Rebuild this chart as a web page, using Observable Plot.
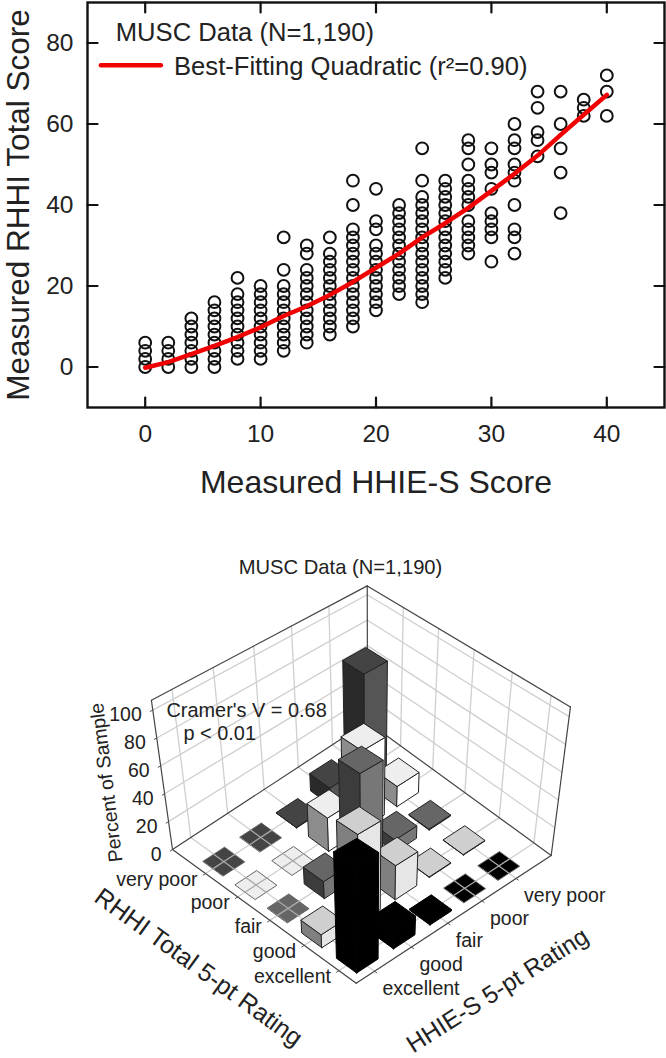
<!DOCTYPE html>
<html>
<head>
<meta charset="utf-8">
<script src="https://cdn.jsdelivr.net/npm/d3@7"></script>
<script src="https://cdn.jsdelivr.net/npm/@observablehq/plot@0.6"></script>
<style>
html,body{margin:0;padding:0;background:#fff}
svg{display:block}
</style>
</head>
<body>
<div id="panelA"></div>
<div id="panelB"></div>
<script>
// ---------- DATA: scatter ----------
const hhieScores = [0,2,4,6,8,10,12,14,16,18,20,22,24,26,28,30,32,34,36,38,40];
const rhhiColumns = [
  [0,2,4,6],
  [0,2,4,6],
  [0,2,4,6,8,10,12],
  [0,2,4,6,8,10,12,14,16],
  [2,4,6,8,10,12,14,16,18,22],
  [2,4,6,8,10,12,14,16,18,20],
  [4,6,8,10,12,14,16,18,20,24,32],
  [6,8,10,12,14,16,18,20,22,24,28,30],
  [8,10,12,14,16,18,20,22,24,26,28,32],
  [10,12,14,16,18,20,22,24,26,28,30,32,34,40,46],
  [14,16,18,20,22,24,26,28,30,34,36,44],
  [18,20,22,24,26,28,30,32,34,36,38,40],
  [16,18,20,22,24,26,28,30,32,34,36,38,40,42,46,54],
  [22,24,26,28,30,32,34,36,38,40,42,44,46],
  [28,30,32,34,36,40,42,44,46,50,54,56],
  [26,32,34,36,38,44,48,50,54],
  [28,32,34,40,46,48,50,54,56,60],
  [52,56,58,64,68],
  [38,48,54,60,68],
  [62,64,66],
  [62,68,72]
];
const fitValues = [-0.2,1.2,3.2,5.2,7.4,9.8,12.6,15,17.8,21,24.5,28,32,35.5,39.3,43.5,47.7,52.2,57.3,62.3,67.2];
const xTicks = [0,10,20,30,40];
const yTicks = [0,20,40,60,80];

// ---------- DATA: 3D bars ----------
const ratings = ["excellent","good","fair","poor","very poor"];
// percent of sample, rows = RHHI rating, columns = HHIE-S rating
const percentExcellent = [73,13,1,0,0];
const percentGood      = [9,62,24,0.4,0.4];
const percentFair      = [0,12,72,9,0.7];
const percentPoor      = [0,0,24,57,15];
const percentVeryPoor  = [0,0,0.5,13,82];
const percentRows = [percentExcellent,percentGood,percentFair,percentPoor,percentVeryPoor];
const percentTicks = [0,20,40,60,80,100];
const rowShades = [
  {top:"#000000",left:"#000000",right:"#000000",edge:"#000000"},
  {top:"#cfcfcf",left:"#808080",right:"#e6e6e6",edge:"#222222"},
  {top:"#666666",left:"#3c3c3c",right:"#777777",edge:"#222222"},
  {top:"#eeeeee",left:"#8c8c8c",right:"#ffffff",edge:"#222222"},
  {top:"#444444",left:"#2a2a2a",right:"#555555",edge:"#222222"}
];

const font = "Liberation Sans, Arial, sans-serif";
const ink = "#222";

// ---------- TOP PANEL ----------
const points = hhieScores.flatMap((x,i)=>rhhiColumns[i].map(y=>({x,y})));
const fit = hhieScores.map((x,i)=>({x,y:fitValues[i]}));
const tickDx = 0.87, tickDy = 2.47;
const frameTicks = [
  ...xTicks.flatMap(x=>[
    {id:`b${x}`,x,y:-10},{id:`b${x}`,x,y:-10+tickDy},
    {id:`t${x}`,x,y:90},{id:`t${x}`,x,y:90-tickDy}
  ]),
  ...yTicks.flatMap(y=>[
    {id:`l${y}`,x:-5,y},{id:`l${y}`,x:-5+tickDx,y},
    {id:`r${y}`,x:45,y},{id:`r${y}`,x:45-tickDx,y}
  ])
];

const chartA = Plot.plot({
  width:666, height:520,
  marginLeft:87, marginRight:2, marginTop:2, marginBottom:113,
  style:{fontFamily:font,background:"#fff",color:ink},
  x:{domain:[-5,45]}, y:{domain:[-10,90]},
  marks:[
    Plot.dot(points,{x:"x",y:"y",r:5.9,stroke:"#111",strokeWidth:2,fill:"none"}),
    Plot.line(fit,{x:"x",y:"y",stroke:"#f00000",strokeWidth:4.5}),
    Plot.frame({stroke:"#111",strokeWidth:2.4}),
    Plot.line(frameTicks,{x:"x",y:"y",z:"id",stroke:"#111",strokeWidth:2.2}),
    Plot.axisX({anchor:"bottom",ticks:xTicks,tickSize:0,tickPadding:17,fontSize:24.5,label:null,fill:ink}),
    Plot.axisY({anchor:"left",ticks:yTicks,tickSize:0,tickPadding:14,fontSize:24.5,label:null,fill:ink}),
    Plot.text(["Measured HHIE-S Score"],{frameAnchor:"bottom",dy:85,fontSize:32,fill:ink}),
    Plot.text(["Measured RHHI Total Score"],{frameAnchor:"left",textAnchor:"middle",rotate:-90,dx:-68.5,fontSize:31.5,fill:ink}),
    Plot.text(["MUSC Data (N=1,190)"],{x:[-2.55],y:[82.6],textAnchor:"start",fontSize:25.6,fill:ink}),
    Plot.line([{x:-3.84,y:74.5},{x:1.36,y:74.5}],{x:"x",y:"y",stroke:"#f00000",strokeWidth:4.5}),
    Plot.text(["Best-Fitting Quadratic (r²=0.90)"],{x:[2.5],y:[74.2],textAnchor:"start",fontSize:25.6,fill:ink})
  ]
});
document.getElementById("panelA").appendChild(chartA);

// ---------- BOTTOM PANEL: perspective projection of a 3D bar chart ----------
const zTop = 107;
const nearCorner=[355.7,982.7], rightCorner=[550.7,855], leftCorner=[172,849], vanish=[370,2250];
const catPos = [.094,.283,.47,.645,.82];
const half = .055;

function project(a,b,z){
  const x0 = nearCorner[0]+(rightCorner[0]-nearCorner[0])*a+(leftCorner[0]-nearCorner[0])*b;
  const y0 = nearCorner[1]+(rightCorner[1]-nearCorner[1])*a+(leftCorner[1]-nearCorner[1])*b;
  const s = (.0889+.0176*((1-a)+(1-b)))*z/zTop;
  return {x:x0+(x0-vanish[0])*s, y:y0+(y0-vanish[1])*s};
}
function path(id,pts,extra={}){
  return pts.map(p=>({id,...project(p[0],p[1],p[2]),...extra}));
}

// walls and floor grid
const gridLines=[], edgeLines=[], tickLines=[];
catPos.forEach((c,k)=>{
  gridLines.push(...path("fa"+k,[[c,0,0],[c,1,0]]));
  gridLines.push(...path("fb"+k,[[0,c,0],[1,c,0]]));
  gridLines.push(...path("wa"+k,[[c,1,0],[c,1,zTop]]));
  gridLines.push(...path("wb"+k,[[1,c,0],[1,c,zTop]]));
  tickLines.push(...path("ta"+k,[[c,0,0],[c,-.012,0]]));
  tickLines.push(...path("tb"+k,[[0,c,0],[-.012,c,0]]));
});
percentTicks.forEach((z,k)=>{
  if(z>0){
    gridLines.push(...path("zl"+k,[[0,1,z],[1,1,z]]));
    gridLines.push(...path("zr"+k,[[1,0,z],[1,1,z]]));
  }
  tickLines.push(...path("tz"+k,[[0,1,z],[-.012,1,z]]));
});
[
  [[0,1,0],[1,1,0]],[[1,0,0],[1,1,0]],
  [[0,1,0],[0,0,0]],[[0,0,0],[1,0,0]],
  [[0,1,0],[0,1,zTop]],[[1,0,0],[1,0,zTop]],[[1,1,0],[1,1,zTop]],
  [[0,1,zTop],[1,1,zTop]],[[1,0,zTop],[1,1,zTop]]
].forEach((seg,k)=>edgeLines.push(...path("e"+k,seg)));

// flat tiles and bars
const tiles=[], tileCross=[], bars=[];
const cells=[];
percentRows.forEach((row,j)=>row.forEach((v,i)=>cells.push({i,j,v})));
cells.forEach(({i,j,v})=>{
  if(v!==0) return;
  const a=catPos[i], b=catPos[j], sh=rowShades[j];
  tiles.push(...path(`t${i}${j}`,[[a-half,b-half,0],[a+half,b-half,0],[a+half,b+half,0],[a-half,b+half,0]],{fill:sh.top}));
  tileCross.push(...path(`ca${i}${j}`,[[a-half,b,0],[a+half,b,0]]));
  tileCross.push(...path(`cb${i}${j}`,[[a,b-half,0],[a,b+half,0]]));
});
cells.filter(d=>d.v>0).sort((p,q)=>(q.i+q.j)-(p.i+p.j)).forEach(({i,j,v})=>{
  const a=catPos[i], b=catPos[j], sh=rowShades[j];
  const a0=a-half,a1=a+half,b0=b-half,b1=b+half;
  bars.push(...path(`l${i}${j}`,[[a0,b0,0],[a0,b1,0],[a0,b1,v],[a0,b0,v]],{fill:sh.left,edge:sh.edge}));
  bars.push(...path(`r${i}${j}`,[[a0,b0,0],[a1,b0,0],[a1,b0,v],[a0,b0,v]],{fill:sh.right,edge:sh.edge}));
  bars.push(...path(`u${i}${j}`,[[a0,b0,v],[a1,b0,v],[a1,b1,v],[a0,b1,v]],{fill:sh.top,edge:sh.edge}));
});

const rowLabels = ratings.map((t,k)=>({t,...project(0,catPos[k],0)}));
const colLabels = ratings.map((t,k)=>({t,...project(catPos[k],0,0)}));
const zLabels = percentTicks.map(z=>({t:String(z),...project(0,1,z)}));

const chartB = Plot.plot({
  width:666, height:538, margin:0,
  style:{fontFamily:font,background:"#fff",color:ink},
  x:{domain:[0,666],range:[0,666],axis:null},
  y:{domain:[520,1058],range:[0,538],axis:null},
  color:{type:"identity"},
  marks:[
    Plot.line(gridLines,{x:"x",y:"y",z:"id",stroke:"#cfcfcf",strokeWidth:1.3}),
    Plot.line(edgeLines,{x:"x",y:"y",z:"id",stroke:"#444",strokeWidth:1.2}),
    Plot.line(tickLines,{x:"x",y:"y",z:"id",stroke:"#555",strokeWidth:1}),
    Plot.line(tiles,{x:"x",y:"y",z:"id",fill:"fill",stroke:"#666",strokeWidth:1,curve:"linear-closed"}),
    Plot.line(tileCross,{x:"x",y:"y",z:"id",stroke:"#aaa",strokeWidth:1.3}),
    Plot.line(bars,{x:"x",y:"y",z:"id",fill:"fill",stroke:"edge",strokeWidth:1,strokeLinejoin:"round",curve:"linear-closed"}),
    Plot.text(rowLabels,{x:"x",y:"y",text:"t",textAnchor:"end",dx:-8,dy:6,fontSize:19.5,fill:ink}),
    Plot.text(colLabels,{x:"x",y:"y",text:"t",textAnchor:"start",dx:8,dy:17.5,fontSize:19.5,fill:ink}),
    Plot.text(zLabels,{x:"x",y:"y",text:"t",textAnchor:"end",dx:-11,dy:5,fontSize:19.5,fill:ink}),
    Plot.text(["MUSC Data (N=1,190)"],{x:[340],y:[567],fontSize:20.2,fill:ink}),
    Plot.text(["Cramer's V = 0.68"],{x:[166],y:[710],textAnchor:"start",fontSize:19.9,fill:ink}),
    Plot.text(["p < 0.01"],{x:[183],y:[733],textAnchor:"start",fontSize:19.9,fill:ink}),
    Plot.text(["Percent of Sample"],{x:[106],y:[782],rotate:-97,fontSize:19.5,fill:ink}),
    Plot.text(["RHHI Total 5-pt Rating"],{x:[198],y:[967],rotate:36,fontSize:25,fill:ink}),
    Plot.text(["HHIE-S 5-pt Rating"],{x:[497],y:[990],rotate:-32.5,fontSize:24.5,fill:ink})
  ]
});
document.getElementById("panelB").appendChild(chartB);
</script>
</body>
</html>
